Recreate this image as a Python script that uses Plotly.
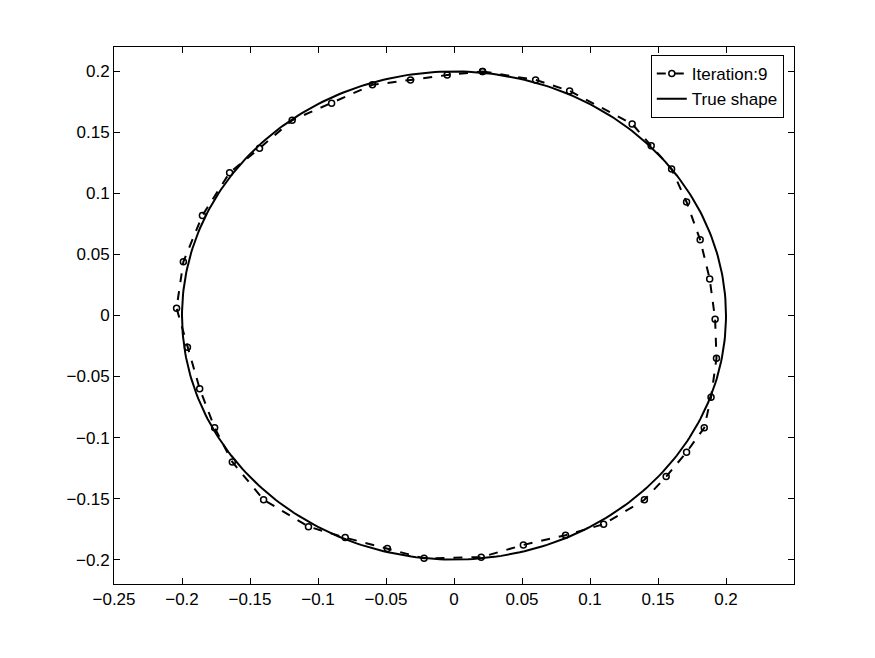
import numpy as np
import plotly.graph_objects as go

# Iteration 9 reconstruction points
iter_x = [0.021, 0.060, 0.085, 0.131, 0.145, 0.160, 0.171, 0.181, 0.188, 0.192,
          0.193, 0.189, 0.184, 0.171, 0.156, 0.140, 0.110, 0.082, 0.051, 0.020,
          -0.022, -0.049, -0.080, -0.107, -0.140, -0.163, -0.176, -0.187, -0.196, -0.204,
          -0.199, -0.185, -0.165, -0.143, -0.119, -0.090, -0.060, -0.032, -0.005, 0.021]
iter_y = [0.200, 0.193, 0.184, 0.157, 0.139, 0.120, 0.093, 0.062, 0.030, -0.003,
          -0.035, -0.067, -0.092, -0.112, -0.132, -0.151, -0.171, -0.180, -0.188, -0.198,
          -0.199, -0.191, -0.182, -0.173, -0.151, -0.120, -0.092, -0.060, -0.026, 0.006,
          0.044, 0.082, 0.117, 0.137, 0.160, 0.174, 0.189, 0.193, 0.197, 0.200]

# True shape: circle of radius 0.2
radius = 0.2
t = np.linspace(0, 2 * np.pi, 361)
true_x = radius * np.cos(t)
true_y = radius * np.sin(t)

fig = go.Figure()
fig.add_trace(go.Scatter(x=iter_x, y=iter_y, mode='lines+markers', name='Iteration:9',
                         line=dict(color='black', width=2, dash='dash'),
                         marker=dict(symbol='circle-open', size=6, color='black', line=dict(width=1.5))))
fig.add_trace(go.Scatter(x=true_x, y=true_y, mode='lines', name='True shape',
                         line=dict(color='black', width=2)))

axis_style = dict(showgrid=False, zeroline=False, showline=True, linecolor='black', linewidth=1,
                  mirror='ticks', ticks='inside', ticklen=6, tickcolor='black')
fig.update_xaxes(range=[-0.25, 0.25], tickvals=[-0.25, -0.2, -0.15, -0.1, -0.05, 0, 0.05, 0.1, 0.15, 0.2],
                 ticktext=['−0.25', '−0.2', '−0.15', '−0.1', '−0.05', '0', '0.05', '0.1', '0.15', '0.2'],
                 **axis_style)
fig.update_yaxes(range=[-0.22, 0.22], tickvals=[-0.2, -0.15, -0.1, -0.05, 0, 0.05, 0.1, 0.15, 0.2],
                 ticktext=['−0.2', '−0.15', '−0.1', '−0.05', '0', '0.05', '0.1', '0.15', '0.2'],
                 **axis_style)
fig.update_layout(width=875, height=658, plot_bgcolor='white', paper_bgcolor='white',
                  margin=dict(l=106, r=89, t=39, b=82),
                  font=dict(family='Liberation Sans, Arial', size=17, color='black'),
                  legend=dict(x=0.985, y=0.985, xanchor='right', yanchor='top',
                              bordercolor='black', borderwidth=1, bgcolor='white'))
fig.write_html("out.html")
